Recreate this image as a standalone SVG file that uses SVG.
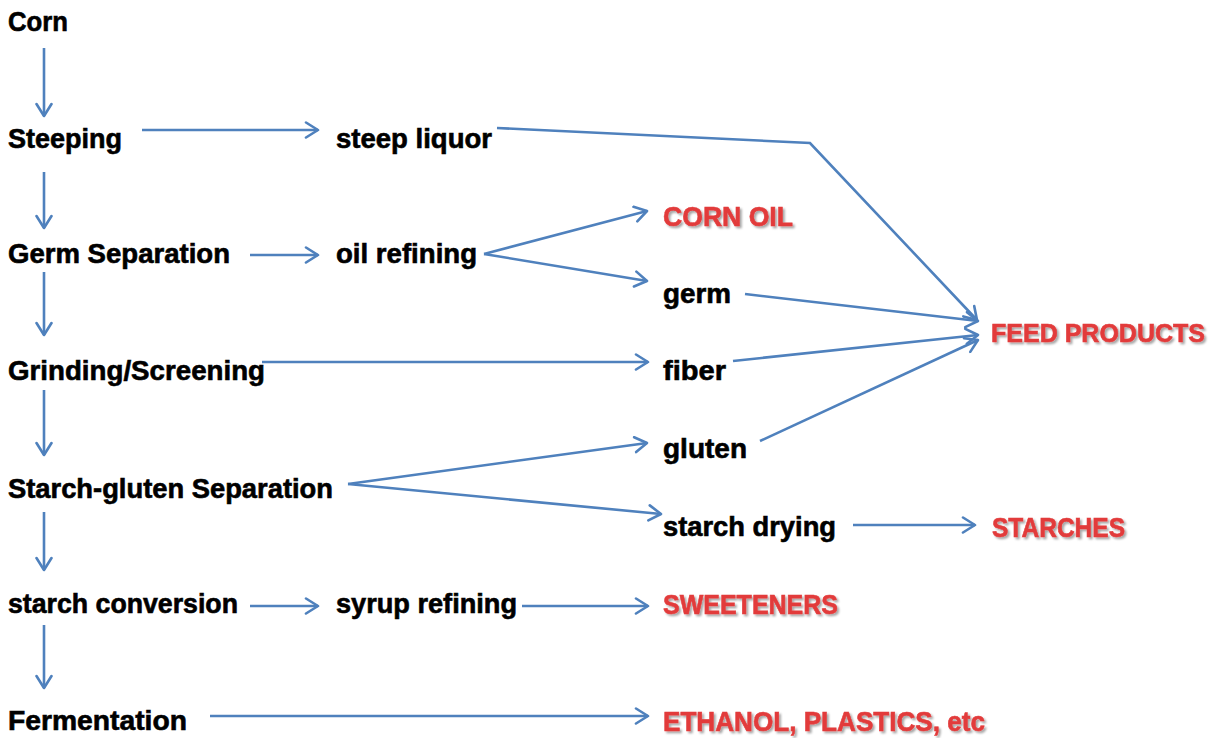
<svg xmlns="http://www.w3.org/2000/svg" width="1217" height="738" viewBox="0 0 1217 738">
<defs>
<marker id="ah" markerUnits="userSpaceOnUse" markerWidth="16" markerHeight="18" viewBox="0 0 16 18" refX="14" refY="9" orient="auto">
<path d="M2,1.5 L14,9 L2,16.5" fill="none" stroke="#4F81BD" stroke-width="2.6" stroke-linecap="round" stroke-linejoin="round"/>
</marker>
<filter id="sh" x="-5%" y="-20%" width="110%" height="150%">
<feGaussianBlur in="SourceAlpha" stdDeviation="1.2" result="b"/>
<feOffset in="b" dx="1.5" dy="2" result="o"/>
<feFlood flood-color="#000" flood-opacity="0.35"/>
<feComposite in2="o" operator="in" result="s"/>
<feMerge><feMergeNode in="s"/><feMergeNode in="SourceGraphic"/></feMerge>
</filter>
</defs>
<style>
text{font-family:"Liberation Sans",Arial,sans-serif;font-weight:bold;font-size:27px;fill:#000;stroke:#000;stroke-width:0.6}
.p{fill:#E23B3B;stroke:#E23B3B;filter:url(#sh)}
.c{fill:none;stroke:#4F81BD;stroke-width:2.6;marker-end:url(#ah)}
</style>
<rect width="1217" height="738" fill="#fff"/>
<g id="connectors">
<line class="c" x1="44" y1="48" x2="44" y2="116"/>
<line class="c" x1="142" y1="130" x2="318" y2="130"/>
<polyline class="c" points="497,128 810,143 977,320"/>
<line class="c" x1="44" y1="172" x2="44" y2="228"/>
<line class="c" x1="250" y1="255" x2="318" y2="255"/>
<line class="c" x1="484" y1="254" x2="647" y2="211"/>
<line class="c" x1="484" y1="254" x2="647" y2="281"/>
<line class="c" x1="44" y1="272" x2="44" y2="335"/>
<line class="c" x1="745" y1="294" x2="978" y2="321"/>
<line class="c" x1="262" y1="362" x2="648" y2="362"/>
<line class="c" x1="733" y1="361" x2="978" y2="335"/>
<line class="c" x1="760" y1="441" x2="978" y2="340"/>
<line class="c" x1="44" y1="390" x2="44" y2="455"/>
<line class="c" x1="348" y1="484" x2="647" y2="443"/>
<line class="c" x1="348" y1="484" x2="661" y2="514"/>
<line class="c" x1="853" y1="525" x2="975" y2="525"/>
<line class="c" x1="44" y1="512" x2="44" y2="570"/>
<line class="c" x1="250" y1="606" x2="318" y2="606"/>
<line class="c" x1="522" y1="606" x2="648" y2="606"/>
<line class="c" x1="44" y1="625" x2="44" y2="688"/>
<line class="c" x1="210" y1="716" x2="648" y2="716"/>
</g>
<g id="corn"><text x="8" y="31" textLength="60" lengthAdjust="spacingAndGlyphs">Corn</text></g>
<g id="steeping"><text x="8" y="148" textLength="114" lengthAdjust="spacingAndGlyphs">Steeping</text></g>
<g id="steep-liquor"><text x="336" y="148" textLength="156" lengthAdjust="spacingAndGlyphs">steep liquor</text></g>
<g id="germ-separation"><text x="8" y="263" textLength="222" lengthAdjust="spacingAndGlyphs">Germ Separation</text></g>
<g id="oil-refining"><text x="336" y="263" textLength="141" lengthAdjust="spacingAndGlyphs">oil refining</text></g>
<g id="corn-oil"><text class="p" x="663" y="226" textLength="130" lengthAdjust="spacingAndGlyphs">CORN OIL</text></g>
<g id="germ"><text x="663" y="303" textLength="68" lengthAdjust="spacingAndGlyphs">germ</text></g>
<g id="feed-products"><text class="p" x="991" y="342" font-size="25" textLength="214" lengthAdjust="spacingAndGlyphs" style="font-size:25px">FEED PRODUCTS</text></g>
<g id="grinding"><text x="8" y="380" textLength="257" lengthAdjust="spacingAndGlyphs">Grinding/Screening</text></g>
<g id="fiber"><text x="663" y="380" textLength="63" lengthAdjust="spacingAndGlyphs">fiber</text></g>
<g id="gluten"><text x="663" y="458" textLength="84" lengthAdjust="spacingAndGlyphs">gluten</text></g>
<g id="starch-gluten"><text x="8" y="498" textLength="325" lengthAdjust="spacingAndGlyphs">Starch-gluten Separation</text></g>
<g id="starch-drying"><text x="663" y="536" textLength="173" lengthAdjust="spacingAndGlyphs">starch drying</text></g>
<g id="starches"><text class="p" x="992" y="537" textLength="133" lengthAdjust="spacingAndGlyphs">STARCHES</text></g>
<g id="starch-conversion"><text x="8" y="613" textLength="230" lengthAdjust="spacingAndGlyphs">starch conversion</text></g>
<g id="syrup-refining"><text x="336" y="613" textLength="181" lengthAdjust="spacingAndGlyphs">syrup refining</text></g>
<g id="sweeteners"><text class="p" x="663" y="614" textLength="175" lengthAdjust="spacingAndGlyphs">SWEETENERS</text></g>
<g id="fermentation"><text x="8" y="730" textLength="179" lengthAdjust="spacingAndGlyphs">Fermentation</text></g>
<g id="ethanol"><text class="p" x="663" y="731" textLength="322" lengthAdjust="spacingAndGlyphs">ETHANOL, PLASTICS, etc</text></g>
</svg>
